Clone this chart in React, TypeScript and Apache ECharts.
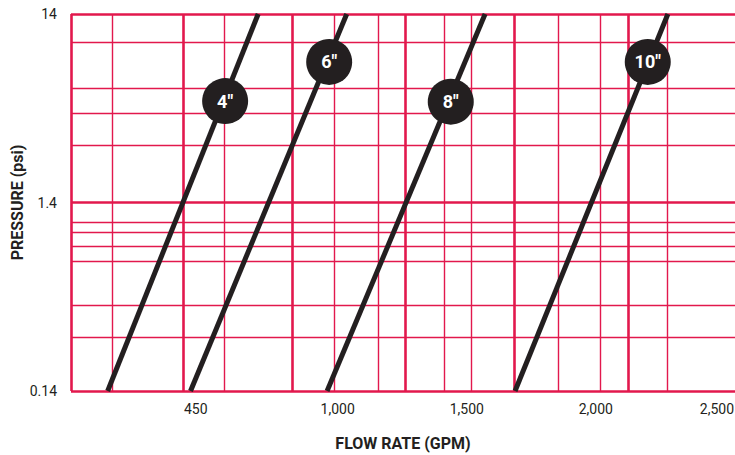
import React, { useEffect, useRef } from "react";
import * as echarts from "echarts";

// Tick labels
const xTickValues = [450, 1000, 1500, 2000, 2500];
const yTickValues = [0.14, 1.4, 14];

// Grid lines (GPM / psi)
const xMajorGrid = [-33, 401, 823, 1260, 1683, 2125];
const xMinorGrid = [126, 559, 986, 1156, 1412, 1516, 1853, 2016, 2276];
const yMajorGrid = [0.14, 1.4, 14];
const yMinorGrid = [0.271, 0.399, 0.678, 0.824, 0.97, 1.1, 2.82, 4.17, 5.66, 9.9];

// Pipe curves: flow at 0.14 psi and at 14 psi
const pipeNames = ['4"', '6"', '8"', '10"'];
const flowAtLow = [109, 430, 959, 1687];
const flowAtHigh = [692, 1035, 1571, 2279];
const pressureLow = 0.14;
const pressureHigh = 14;

// Label badge positions (GPM, psi)
const badgeFlow = [564, 967, 1438, 2201];
const badgePressure = [4.83, 7.8, 4.8, 7.8];

const RED = "#E2184D";
const INK = "#231F20";
const FONT = "Roboto, 'Liberation Sans', sans-serif";

export default function App() {
  const ref = useRef<HTMLDivElement>(null);

  useEffect(() => {
    document.body.style.margin = "0";
    if (!ref.current) return;
    const chart = echarts.init(ref.current, undefined, { renderer: "svg" });

    const gridSeries = (vals: number[], axis: "xAxis" | "yAxis", width: number) => ({
      type: "line",
      data: [],
      silent: true,
      z: 1,
      markLine: {
        silent: true,
        symbol: ["none", "none"],
        label: { show: false },
        animation: false,
        lineStyle: { color: RED, width, type: "solid", opacity: 1 },
        emphasis: { disabled: true },
        data: vals.map((v) => ({ [axis]: v })),
      },
    });

    const pipeSeries = pipeNames.map((name, i) => ({
      type: "line",
      name,
      z: 5,
      symbol: "none",
      silent: true,
      lineStyle: { color: INK, width: 5 },
      data: [
        [flowAtLow[i], pressureLow],
        [flowAtHigh[i], pressureHigh],
      ],
    }));

    const lastTick = xTickValues[xTickValues.length - 1];

    chart.setOption({
      animation: false,
      grid: { left: 71, right: 0, top: 14, bottom: 64, outerBoundsMode: "none", containLabel: false },
      xAxis: {
        type: "value",
        min: -33,
        max: 2539,
        name: "FLOW RATE (GPM)",
        nameLocation: "middle",
        nameGap: 44,
        nameMoveOverlap: false,
        nameTextStyle: { fontFamily: FONT, fontWeight: "bold", fontSize: 16, color: INK },
        axisLine: { show: false },
        axisTick: { show: false },
        splitLine: { show: false },
        axisLabel: {
          customValues: xTickValues,
          margin: 11,
          fontFamily: FONT,
          fontSize: 14,
          color: INK,
          formatter: (v: number) => {
            const s = v.toLocaleString("en-US");
            return v === lastTick ? `{last|${s}}` : s;
          },
          rich: {
            last: { fontFamily: FONT, fontSize: 14, color: INK, padding: [0, 16, 0, 0] },
          },
        },
      },
      yAxis: {
        type: "log",
        logBase: 10,
        min: 0.14,
        max: 14,
        name: "PRESSURE (psi)",
        nameLocation: "middle",
        nameRotate: 90,
        nameGap: 46,
        nameMoveOverlap: false,
        nameTextStyle: { fontFamily: FONT, fontWeight: "bold", fontSize: 16, color: INK },
        axisLine: { show: false },
        axisTick: { show: false },
        splitLine: { show: false },
        axisLabel: {
          customValues: yTickValues,
          margin: 14,
          fontFamily: FONT,
          fontSize: 14,
          color: INK,
          formatter: (v: number) => String(v),
        },
      },
      series: [
        gridSeries(xMinorGrid, "xAxis", 1.4),
        gridSeries(yMinorGrid, "yAxis", 1.4),
        gridSeries(xMajorGrid, "xAxis", 2.6),
        gridSeries(yMajorGrid, "yAxis", 2.6),
        ...pipeSeries,
        {
          type: "scatter",
          z: 10,
          silent: true,
          symbol: "circle",
          symbolSize: 46,
          itemStyle: { color: INK, opacity: 1 },
          label: {
            show: true,
            position: "inside",
            color: "#ffffff",
            fontFamily: FONT,
            fontWeight: "bold",
            fontSize: 18,
            formatter: (p: any) => p.name,
          },
          data: pipeNames.map((n, i) => ({ name: n, value: [badgeFlow[i], badgePressure[i]] })),
        },
      ],
    });

    return () => chart.dispose();
  }, []);

  return <div ref={ref} style={{ width: 735, height: 455 }} />;
}
